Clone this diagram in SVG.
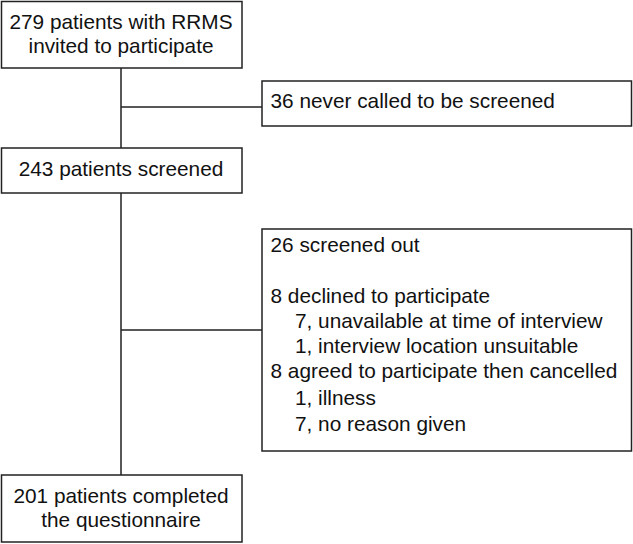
<svg xmlns="http://www.w3.org/2000/svg" width="633" height="544" viewBox="0 0 633 544">
<style>
.box{fill:#fff;stroke:#222;stroke-width:1.5}
.t{font-family:"Liberation Sans",Arial,sans-serif;font-size:20.8px;fill:#111}
.c{text-anchor:middle}
.ln{stroke:#222;stroke-width:1.5;fill:none}
</style>
<rect width="633" height="544" fill="#fff"/>
<g id="connectors">
<path class="ln" d="M121,68V148M121,107H262M121,193V475M121,330H262"/>
</g>
<g id="n1">
<rect class="box" x="1.5" y="1.5" width="240.5" height="66.5"/>
<text class="t c" x="121" y="29">279 patients with RRMS</text>
<text class="t c" x="121" y="53">invited to participate</text>
</g>
<g id="n2">
<rect class="box" x="262" y="81" width="369.5" height="45"/>
<text class="t" x="270.5" y="108">36 never called to be screened</text>
</g>
<g id="n3">
<rect class="box" x="1.5" y="148" width="240.5" height="45"/>
<text class="t c" x="121" y="176">243 patients screened</text>
</g>
<g id="n4">
<rect class="box" x="262" y="229" width="369.5" height="222"/>
<text class="t" x="270.5" y="252">26 screened out</text>
<text class="t" x="270.5" y="303">8 declined to participate</text>
<text class="t" x="295" y="328">7, unavailable at time of interview</text>
<text class="t" x="295" y="353">1, interview location unsuitable</text>
<text class="t" x="270.5" y="378">8 agreed to participate then cancelled</text>
<text class="t" x="295" y="405">1, illness</text>
<text class="t" x="295" y="431">7, no reason given</text>
</g>
<g id="n5">
<rect class="box" x="1.5" y="475" width="240.5" height="67"/>
<text class="t c" x="121" y="503">201 patients completed</text>
<text class="t c" x="121" y="527">the questionnaire</text>
</g>
</svg>
